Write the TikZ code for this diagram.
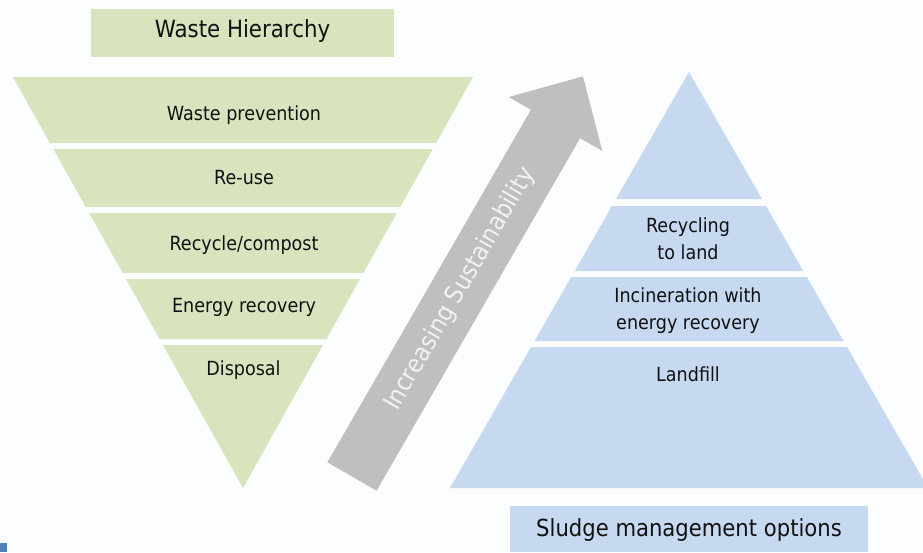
\documentclass[tikz,border=0pt]{standalone}
\usepackage{fontspec}
\setmainfont{DejaVu Sans}[FakeStretch=0.9]
\definecolor{wgreen}{HTML}{D7E4BD}
\definecolor{sblue}{HTML}{C6D9F1}
\definecolor{agray}{HTML}{BFBFBF}
\definecolor{bgc}{HTML}{FBFDFE}
\definecolor{cornerblue}{HTML}{4F81BD}
\definecolor{arrowtext}{HTML}{F2F2F2}
\definecolor{labtext}{HTML}{111111}
\begin{document}
\begin{tikzpicture}[x=1pt,y=-1pt,
  lab/.style={anchor=base, inner sep=0pt, font=\fontsize{19.5}{26.5}\selectfont, text=labtext, align=center},
  greenband/.style={fill=wgreen},
  blueband/.style={fill=sblue},
  headbox/.style={inner sep=0pt, text=labtext, font=\fontsize{23.7}{28}\selectfont}]
\clip (0,0) rectangle (923,552);
\fill[bgc] (0,0) rectangle (923,552);

% title box
\node[headbox, fill=wgreen, minimum width=303pt, minimum height=48pt,
      text height=17pt, text depth=8.4pt] (wh) at (242.5,33) {Waste Hierarchy};

% inverted green triangle (waste hierarchy)
\fill[greenband] (13,77) -- (473,77) -- (436.07,143) -- (49.93,143) -- cycle;
\fill[greenband] (53.3,149) -- (432.7,149) -- (400.25,207) -- (85.75,207) -- cycle;
\fill[greenband] (89.1,213) -- (396.9,213) -- (363.3,273) -- (122.7,273) -- cycle;
\fill[greenband] (126.04,279) -- (359.96,279) -- (326.4,339) -- (159.6,339) -- cycle;
\fill[greenband] (163,345) -- (323,345) -- (243,488) -- cycle;

\node[lab] (wp) at (244,120) {Waste prevention};
\node[lab] (ru) at (244,184) {Re-use};
\node[lab] (rc) at (244,250.7) {Recycle/compost};
\node[lab] (er) at (244,312.7) {Energy recovery};
\node[lab] (dp) at (243.5,375) {Disposal};

% sustainability arrow
\fill[agray] (327.4,462.3) -- (530.9,109.8) -- (508.7,97) -- (583,76.4)
   -- (602.3,151) -- (580.1,138.2) -- (376.6,490.7) -- cycle;
\node[inner sep=0pt, rotate=60, text=arrowtext, font=\fontsize{25}{30}\selectfont]
   (sus) at (460.25,289) {Increasing Sustainability};

% blue pyramid (sludge options)
\fill[blueband] (689,72) -- (762,199) -- (616,199) -- cycle;
\fill[blueband] (612,206) -- (766,206) -- (803.3,271) -- (574.7,271) -- cycle;
\fill[blueband] (571.2,277) -- (806.8,277) -- (843.5,341) -- (534.5,341) -- cycle;
\fill[blueband] (531,347) -- (847,347) -- (928,488) -- (450,488) -- cycle;

\node[lab] (rl) at (688,259) {Recycling\\to land};
\node[lab] (ie) at (688,329.3) {Incineration with\\energy recovery};
\node[lab] (lf) at (688,381) {Landfill};

% bottom box
\node[headbox, fill=sblue, minimum width=358pt, minimum height=46pt,
      text height=16pt, text depth=0.6pt, font=\fontsize{23.5}{28}\selectfont] (smo) at (689,529) {Sludge management options};

% corner mark
\fill[cornerblue] (0,542.7) rectangle (6.7,552);
\end{tikzpicture}
\end{document}
